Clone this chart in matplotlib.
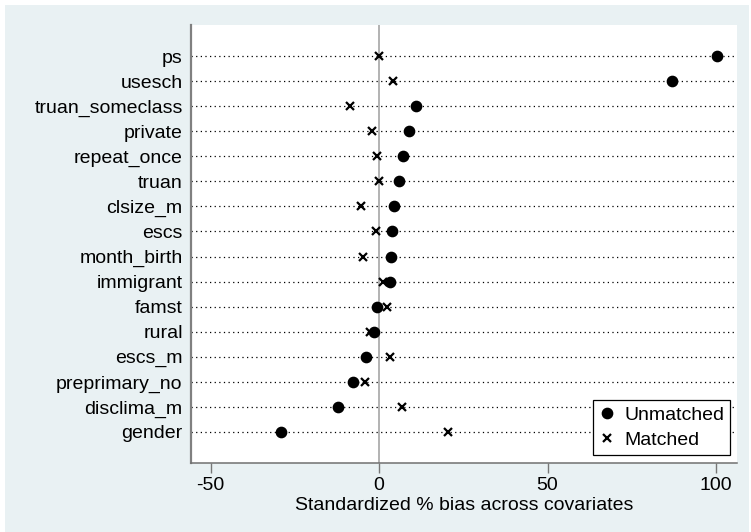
import matplotlib
matplotlib.use("Agg")
import matplotlib.pyplot as plt
from matplotlib.patches import Rectangle
from matplotlib.lines import Line2D

# Standardized % bias per covariate, before and after matching
covariates = ["ps", "usesch", "truan_someclass", "private", "repeat_once", "truan",
              "clsize_m", "escs", "month_birth", "immigrant", "famst", "rural",
              "escs_m", "preprimary_no", "disclima_m", "gender"]
unmatched = [100.3, 87.0, 10.9, 9.0, 7.1, 5.8, 4.5, 3.7, 3.5, 3.2, -0.7, -1.6,
             -4.0, -7.8, -12.1, -29.2]
matched = [0.0, 4.1, -8.6, -2.0, -0.7, 0.1, -5.5, -0.9, -4.9, 1.1, 2.3, -2.8,
           3.2, -4.3, 6.9, 20.4]
xticks = [-50, 0, 50, 100]

plt.rcParams["font.family"] = ["Liberation Sans", "DejaVu Sans"]
FS = 14
BG = "#e9f1f3"

fig = plt.figure(figsize=(7.51, 5.32), dpi=100, facecolor="white")
# light graph region with a thin white margin at top and left
fig.patches.append(Rectangle((5 / 751, 0), 744 / 751, 527 / 532,
                             transform=fig.transFigure, facecolor=BG,
                             edgecolor="none", zorder=-10))

ax = fig.add_axes([191 / 751, 1 - 463 / 532, 546 / 751, 438 / 532])
ax.set_facecolor("white")

n = len(covariates)
ypos = list(range(n - 1, -1, -1))

for y in ypos:
    ax.axhline(y, color="black", lw=0.9, dashes=(1, 2.7), zorder=1)
ax.axvline(0, color="#a6a6a6", lw=1.2, zorder=1)

ax.plot(matched, ypos, linestyle="none", marker="x", color="black",
        markersize=5.5, markeredgewidth=1.6, zorder=3)
ax.plot(unmatched, ypos, linestyle="none", marker="o", color="black",
        markersize=7.4, zorder=4)

ax.set_xlim(-55.8, 106.2)
ax.set_ylim(-1.24, n - 1 + 1.24)
ax.set_yticks(ypos)
ax.set_yticklabels(covariates, fontsize=FS)
ax.tick_params(axis="y", length=0, pad=6)
ax.set_xticks(xticks)
ax.set_xticklabels([str(t) for t in xticks], fontsize=FS)
ax.tick_params(axis="x", length=7, width=1, color="#777777", pad=3)
ax.set_xlabel("Standardized % bias across covariates", fontsize=FS, labelpad=2)

for side in ("top", "right"):
    ax.spines[side].set_visible(False)
ax.spines["left"].set_color("#808080")
ax.spines["left"].set_linewidth(1.6)
ax.spines["bottom"].set_color("#707070")
ax.spines["bottom"].set_linewidth(1.1)

handles = [
    Line2D([], [], linestyle="none", marker="o", color="black", markersize=7.4),
    Line2D([], [], linestyle="none", marker="x", color="black",
           markersize=5.5, markeredgewidth=1.6),
]
leg = ax.legend(handles, ["Unmatched", "Matched"], loc="lower right",
                bbox_to_anchor=(0.987, 0.018), fontsize=FS, frameon=True,
                fancybox=False, framealpha=1, edgecolor="black",
                borderpad=0.3, labelspacing=0.4, handlelength=0.8,
                handletextpad=0.5, borderaxespad=0)
leg.get_frame().set_linewidth(0.9)

fig.savefig("out.png", dpi=100, facecolor=fig.get_facecolor())
